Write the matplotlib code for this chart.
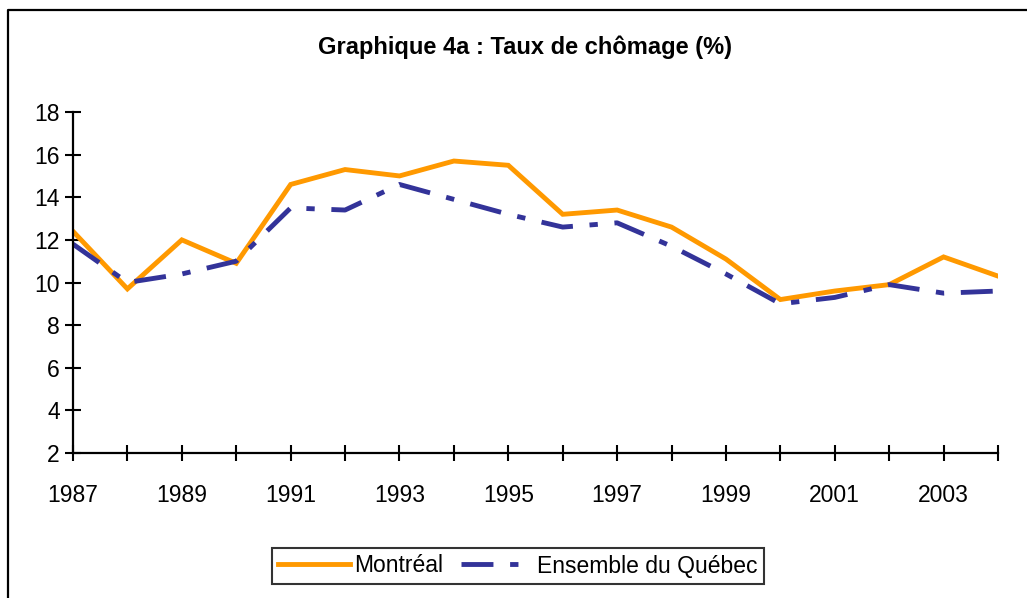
import matplotlib

matplotlib.use("Agg")

import matplotlib.pyplot as plt
from matplotlib.lines import Line2D

plt.rcParams["font.family"] = ["Liberation Sans", "DejaVu Sans"]
plt.rcParams["lines.scale_dashes"] = False

years = list(range(1987, 2005))
montreal = [12.4, 9.7, 12.0, 10.9, 14.6, 15.3, 15.0, 15.7, 15.5,
            13.2, 13.4, 12.6, 11.1, 9.2, 9.6, 9.9, 11.2, 10.3]
quebec = [11.8, 10.0, 10.4, 11.0, 13.5, 13.4, 14.6, 13.9, 13.2,
          12.6, 12.8, 11.7, 10.4, 9.0, 9.3, 9.9, 9.5, 9.6]
xtick_labels = [str(y) if (y - 1987) % 2 == 0 else "" for y in years]

W, H = 1027, 598
FS = 16.5
fig = plt.figure(figsize=(W / 100, H / 100), dpi=100)
ax = fig.add_axes([73 / W, 1 - 453 / H, (998 - 73) / W, (453 - 112) / H])

ax.plot(years, montreal, color="#FF9900", lw=3.5, solid_joinstyle="miter",
        label="Montréal")
ax.plot(years, quebec, color="#333399", lw=3.5, dash_capstyle="butt",
        dashes=(23, 12, 6, 12), label="Ensemble du Québec")

ax.set_xlim(1987, 2004)
ax.set_ylim(2, 18)
ax.set_xticks(years)
ax.set_xticklabels(xtick_labels)
ax.set_yticks(range(2, 19, 2))

for side in ("top", "right"):
    ax.spines[side].set_visible(False)
for side in ("left", "bottom"):
    ax.spines[side].set_linewidth(1.6)
    ax.spines[side].set_color("black")

ax.tick_params(axis="both", direction="inout", length=11, width=1.5,
               labelsize=FS, colors="black")
ax.tick_params(axis="x", pad=17)
ax.tick_params(axis="y", pad=4)

fig.text(525 / W, 1 - 47 / H, "Graphique 4a : Taux de chômage (%)",
         ha="center", va="center", fontsize=17, fontweight="bold")

leg = ax.legend(loc="center", bbox_to_anchor=(518 / W, 1 - 566 / H),
                bbox_transform=fig.transFigure, ncol=2, fontsize=FS,
                frameon=True, fancybox=False, handlelength=3.1,
                handletextpad=0.2, columnspacing=0.8, borderpad=0.3,
                borderaxespad=0)
leg.get_frame().set_edgecolor("black")
leg.get_frame().set_linewidth(1.5)

# outer chart border (cut off at right and bottom)
fig.add_artist(Line2D([8 / W, 8 / W, 1.0], [0.0, 1 - 10 / H, 1 - 10 / H],
                      transform=fig.transFigure, color="black", lw=1.6))

fig.savefig("out.png", dpi=100)
